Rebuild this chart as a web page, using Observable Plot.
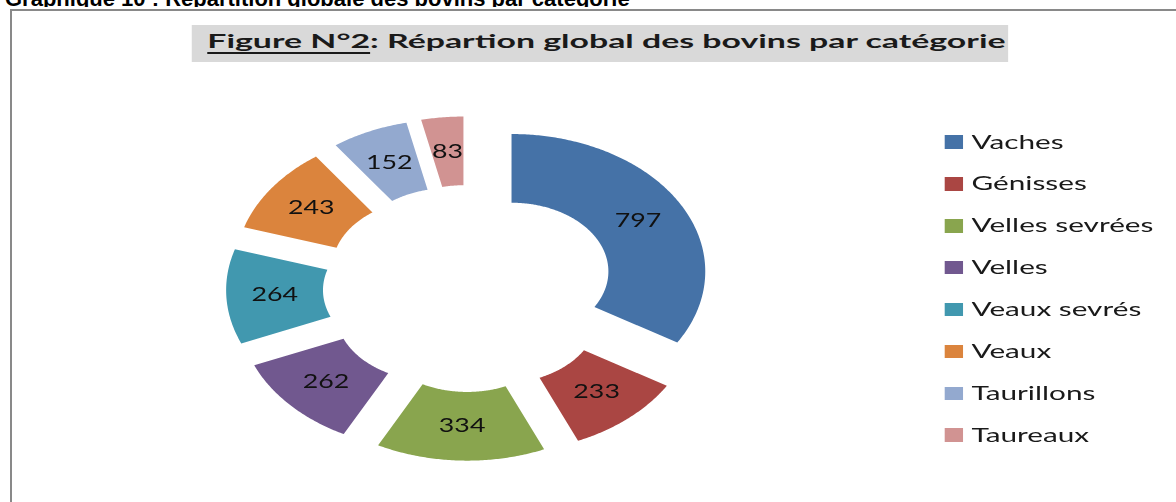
<!DOCTYPE html>
<html><head><meta charset="utf-8">
<script src="https://cdn.jsdelivr.net/npm/d3@7"></script>
<script src="https://cdn.jsdelivr.net/npm/@observablehq/plot@0.6"></script>
<style>
html,body{margin:0;padding:0;background:#fff;width:1176px;height:502px;overflow:hidden;}
#page{position:relative;width:1176px;height:502px;overflow:hidden;background:#fff;}
#headclip{position:absolute;left:0;top:0;width:1176px;height:7px;overflow:hidden;}
#heading{position:absolute;left:5px;top:-12.1px;font:bold 22px "Liberation Sans",Arial,sans-serif;line-height:22px;color:#000;white-space:nowrap;}
#frame{position:absolute;left:10px;top:9px;width:1200px;height:600px;border:2px solid #898989;box-sizing:border-box;}
#stretch{position:absolute;left:0;top:0;width:834px;height:502px;transform:scaleX(1.41);transform-origin:0 0;}
#titlebg{position:absolute;left:136.4px;top:24.5px;width:578.3px;height:37.5px;background:#d9d9d9;}
#title{position:absolute;left:146.6px;top:30.9px;font:bold 18px Lato,sans-serif;line-height:1.2;color:#1a1a1a;white-space:nowrap;transform:scaleX(1.333);transform-origin:0 0;}
#title u{text-decoration-thickness:1.6px;text-underline-offset:4px;}
#chart{position:absolute;left:132.4px;top:97.75px;width:400px;height:380px;}
#legend{position:absolute;left:670.2px;top:121.05px;}
.row{display:flex;align-items:center;height:41.9px;}
.sw{width:12.8px;height:13.5px;margin-right:6px;flex:none;}
.lab{font:19px Lato,sans-serif;line-height:1.2;color:#1a1a1a;white-space:nowrap;transform:scaleX(1.11);transform-origin:0 50%;}
</style></head>
<body>
<div id="page">
  <div id="headclip"><div id="heading">Graphique 10 : Répartition globale des bovins par catégorie</div></div>
  <div id="frame"></div>
  <div id="stretch">
    <div id="titlebg"></div>
    <div id="title"><u>Figure N°2</u>: Répartion global des bovins par catégorie</div>
    <div id="chart"></div>
    <div id="legend"></div>
  </div>
</div>
<script>
const categories = ["Vaches","Génisses","Velles sevrées","Velles","Veaux sevrés","Veaux","Taurillons","Taureaux"];
const values = [797,233,334,262,264,243,152,83];
const colors = ["#4572A7","#AA4643","#89A54E","#71588F","#4198AF","#DB843D","#93A9CF","#D19392"];

const rows = categories.map((c,i)=>({cat:c, value:values[i]}));
const arcs = d3.pie().sort(null).value(d=>d.value)(rows);

const R_OUT = 1, R_IN = 0.5, EXPLODE = 0.253, LABEL_R = 0.75;
const pts = [];
for (const a of arcs) {
  const mid = (a.startAngle + a.endAngle)/2;
  const ox = EXPLODE*Math.sin(mid), oy = EXPLODE*Math.cos(mid);
  const n = Math.max(8, Math.ceil((a.endAngle - a.startAngle)/0.01));
  for (let k=0;k<=n;k++){ const t=a.startAngle+(a.endAngle-a.startAngle)*k/n; pts.push({cat:a.data.cat, x:ox+R_OUT*Math.sin(t), y:oy+R_OUT*Math.cos(t)}); }
  for (let k=n;k>=0;k--){ const t=a.startAngle+(a.endAngle-a.startAngle)*k/n; pts.push({cat:a.data.cat, x:ox+R_IN*Math.sin(t), y:oy+R_IN*Math.cos(t)}); }
}
const labels = arcs.map(a=>{
  const mid=(a.startAngle+a.endAngle)/2, r=LABEL_R+EXPLODE;
  return {cat:a.data.cat, value:a.data.value, x:r*Math.sin(mid), y:r*Math.cos(mid)};
});

const plot = Plot.plot({
  width:400, height:380, margin:0,
  style:{background:"transparent", overflow:"visible"},
  x:{domain:[-1.4556,1.4556], axis:null},
  y:{domain:[-1.3828,1.3828], axis:null},
  color:{domain:categories, range:colors},
  marks:[
    Plot.line(pts,{x:"x",y:"y",z:"cat",fill:"cat",stroke:"none",curve:"linear-closed"}),
    Plot.text(labels,{x:"x",y:"y",text:d=>String(d.value),fill:"#111",fontSize:19,fontFamily:"Lato, sans-serif"})
  ]
});
document.getElementById("chart").appendChild(plot);

const legend = document.getElementById("legend");
categories.forEach((c,i)=>{
  const r=document.createElement("div"); r.className="row";
  const s=document.createElement("div"); s.className="sw"; s.style.background=colors[i];
  const t=document.createElement("div"); t.className="lab"; t.textContent=c;
  r.appendChild(s); r.appendChild(t); legend.appendChild(r);
});
</script>
</body></html>
